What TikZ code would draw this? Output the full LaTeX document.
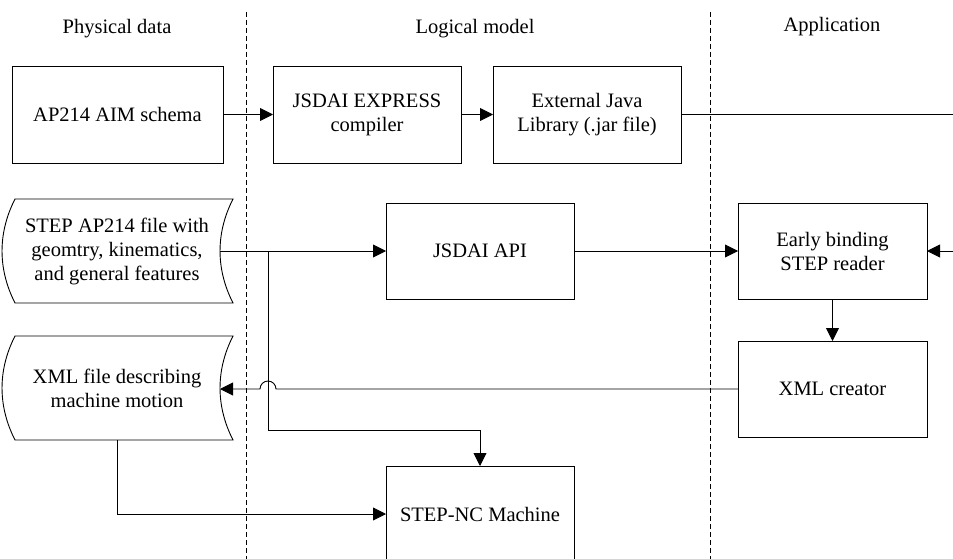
\documentclass[tikz,border=0pt]{standalone}
\usepackage{fontspec}
\setmainfont{Liberation Serif}
\usetikzlibrary{arrows.meta}
\begin{document}
\begin{tikzpicture}[x=1pt,y=-1pt,
  every node/.style={font=\fontsize{20.5}{24}\selectfont, align=center},
  box/.style={draw, line width=0.9pt, minimum width=188pt, minimum height=96pt, inner sep=0pt, outer sep=0pt},
  conn/.style={line width=0.9pt},
  arr/.style={line width=0.9pt, -{Triangle[length=13pt,width=13pt]}},
  sep/.style={line width=0.7pt, dash pattern=on 5pt off 3pt},
  docshape/.style={draw, line width=0.9pt}]
\useasboundingbox (0,0) rectangle (953,559);
\clip (0,0) rectangle (953,559);

% lane separators
\draw[sep] (246.7,12) -- (246.7,559);
\draw[sep] (710,12) -- (710,559);

% headers
\node (h1) at (117,29) {Physical data};
\node (h2) at (475,29) {Logical model};
\node (h3) at (832,27) {Application};

% top row
\node[box, minimum width=211pt, minimum height=97pt] (ap) at (117.5,114.5) {AP214 AIM schema};
\node[box, minimum height=97pt] (jex) at (367,114.5) {JSDAI EXPRESS\\compiler};
\node[box, minimum height=97pt] (ext) at (587,114.5) {External Java\\Library (.jar file)};
\coordinate (rt) at (953,114.5);

% stored data shapes
\draw[docshape] (15,199) -- (233,199) .. controls (215.7,233) and (215.7,269) .. (233,303)
  -- (15,303) .. controls (-2.3,269) and (-2.3,233) .. (15,199) -- cycle;
\node (stepf) at (117,251) {STEP AP214 file with\\geomtry, kinematics,\\and general features};
\coordinate (stepR) at (220,251);

\draw[docshape] (15,336) -- (233,336) .. controls (215.7,370) and (215.7,406) .. (233,440)
  -- (15,440) .. controls (-2.3,406) and (-2.3,370) .. (15,336) -- cycle;
\node (xmlf) at (117,388) {XML file describing\\machine motion};
\coordinate (xmlR) at (220,389);
\coordinate (xmlB) at (117.5,440);

% middle
\node[box] (api) at (480,251) {JSDAI API};
\node[box, minimum width=189pt] (early) at (832.5,251) {Early binding\\STEP reader};
\node[box, minimum width=189pt] (xmlc) at (832.5,389) {XML creator};
\node[box] (nc) at (480,514) {STEP-NC Machine};
\coordinate (rin) at (953,251);

% connectors
\draw[arr] (ap.east) -- (jex.west);
\draw[arr] (jex.east) -- (ext.west);
\draw[conn] (ext.east) -- (rt);
\draw[arr] (stepR) -- (api.west);
\draw[arr] (api.east) -- (early.west);
\draw[arr] (rin) -- (early.east);
\draw[arr] (early.south) -- (xmlc.north);
\draw[arr] (stepR) -| (268,430) -| (nc.north);
\draw[arr] (xmlc.west) -- (276,389)
  .. controls (276,384.6) and (272.4,381) .. (268,381)
  .. controls (263.6,381) and (260,384.6) .. (260,389) -- (xmlR);
\draw[arr] (xmlB) |- (nc.west);
\end{tikzpicture}
\end{document}
